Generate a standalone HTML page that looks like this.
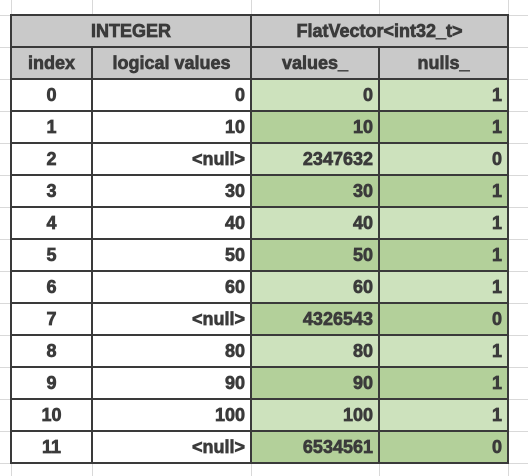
<!DOCTYPE html>
<html><head><style>
body{margin:0;width:528px;height:476px;background:#fff;position:relative;overflow:hidden;font-family:"Liberation Sans",sans-serif;font-weight:700;color:#3b3b3b}
.c{position:absolute;box-sizing:border-box;font-size:18px;line-height:33px;white-space:nowrap;font-weight:700;font-family:"Liberation Sans",sans-serif;-webkit-text-stroke:0.7px #3b3b3b}
.r{text-align:right;padding-right:6px}
.m{text-align:center}
.v{position:absolute;width:2px;background:#3a3a3a}
.h{position:absolute;height:2px;background:#3a3a3a}
.gv{position:absolute;width:1px;background:#d9d9d9}
.gh{position:absolute;height:1px;background:#d9d9d9}
</style></head><body>
<div id="g"></div>
<script>
var xs=[11,92,251,379,508];
var ys=[15,47,79];for(var i=1;i<=12;i++)ys.push(79+32*i);
var o='';
xs.forEach(function(x){o+='<div class="gv" style="left:'+x+'px;top:0;height:476px"></div>';});
ys.forEach(function(y){o+='<div class="gh" style="left:0;top:'+y+'px;width:528px"></div>';});
o+='<div class="c m" style="left:11px;top:15px;width:240px;height:32px;background:#c9c9c9">INTEGER</div>';
o+='<div class="c m" style="left:251px;top:15px;width:257px;height:32px;background:#c9c9c9">FlatVector&lt;int32_t&gt;</div>';
var hd=['index','logical values','values_','nulls_'];
for(var k=0;k<4;k++)o+='<div class="c m" style="left:'+xs[k]+'px;top:47px;width:'+(xs[k+1]-xs[k])+'px;height:32px;background:#c9c9c9">'+hd[k]+'</div>';
var lv=['0','10','&lt;null&gt;','30','40','50','60','&lt;null&gt;','80','90','100','&lt;null&gt;'];
var vv=['0','10','2347632','30','40','50','60','4326543','80','90','100','6534561'];
for(var i=0;i<12;i++){var y=79+32*i;var bg=i%2?'#b3d09a':'#cde2bd';
o+='<div class="c m" style="left:11px;top:'+y+'px;width:81px;height:32px">'+i+'</div>';
o+='<div class="c r" style="left:92px;top:'+y+'px;width:159px;height:32px">'+lv[i]+'</div>';
o+='<div class="c r" style="left:251px;top:'+y+'px;width:128px;height:32px;background:'+bg+'">'+vv[i]+'</div>';
o+='<div class="c r" style="left:379px;top:'+y+'px;width:129px;height:32px;background:'+bg+'">'+(lv[i]=='&lt;null&gt;'?'0':'1')+'</div>';}
xs.forEach(function(x,k){var t=(k==1||k==3)?47:15;o+='<div class="v" style="left:'+(x-1)+'px;top:'+(t-1)+'px;height:'+(463-t+2)+'px"></div>';});
ys.forEach(function(y){o+='<div class="h" style="left:10px;top:'+(y-1)+'px;width:499px"></div>';});
document.getElementById('g').innerHTML=o;
</script>
</body></html>
